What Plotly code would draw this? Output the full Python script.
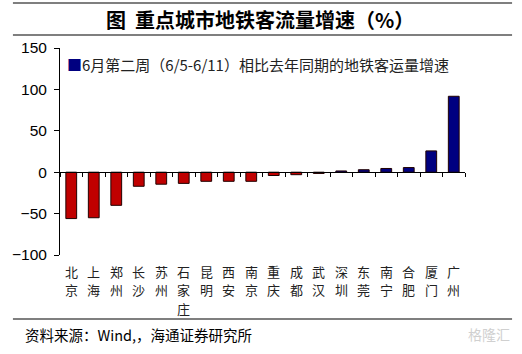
import plotly.graph_objects as go

cities = ["北京", "上海", "郑州", "长沙", "苏州", "石家庄", "昆明", "西安", "南京",
          "重庆", "成都", "武汉", "深圳", "东莞", "南宁", "合肥", "厦门", "广州"]
growth = [-56, -55, -40, -17, -14.5, -13.5, -11, -11, -11, -4, -3, -1.5, 1.5, 3, 4.5, 5.6, 25.7, 91.7]
series_name = "6月第二周（6/5-6/11）相比去年同期的地铁客运量增速"
yticks = [-100, -50, 0, 50, 100, 150]

RED = "#C00000"
BLUE = "#000080"
colors = [RED if v < 0 else BLUE for v in growth]

cjk = "Noto Sans CJK SC"
num = "Liberation Sans"

fig = go.Figure()
fig.add_trace(go.Bar(x=cities, y=growth, marker=dict(color=colors, line=dict(color="#200000", width=1)),
                     name=series_name, showlegend=False, xaxis="x", yaxis="y"))
fig.add_trace(go.Bar(x=cities, y=growth, opacity=0, showlegend=False, hoverinfo="skip",
                     xaxis="x2", yaxis="y"))

fig.update_layout(
    width=522, height=354,
    margin=dict(l=52, r=57, t=48, b=99),
    paper_bgcolor="white", plot_bgcolor="white",
    bargap=0.52,
    xaxis=dict(type="category", showline=False, ticks="", showgrid=False, showticklabels=False),
    xaxis2=dict(type="category", overlaying="x", matches="x", anchor="free", position=0.4, side="bottom",
                showline=True, linecolor="black", linewidth=1, ticks="outside", tickson="boundaries",
                ticklen=4, tickcolor="black", showticklabels=False, showgrid=False),
    yaxis=dict(range=[-100, 150], tickvals=yticks, showline=True, linecolor="black", linewidth=1,
               ticks="outside", ticklen=5, tickcolor="black", showgrid=False, zeroline=False,
               ticklabelstandoff=4, tickfont=dict(family=num, size=15.5, color="black")),
)

# vertical (stacked) category labels, one character per row
for name in cities:
    for i, ch in enumerate(name):
        fig.add_annotation(x=name, xref="x", yref="paper", y=0, yanchor="middle",
                           yshift=-(271 - 255) - i * 18.5, text=ch, showarrow=False,
                           font=dict(family=cjk, size=13, color="#222"))

fig.add_annotation(xref="paper", yref="paper", x=0.012, y=0.92, xanchor="left", yanchor="middle",
                   text=f"<span style='color:{BLUE}'>■</span>{series_name}", showarrow=False,
                   font=dict(family=cjk, size=15, color="#222"))

# title and frame lines
fig.add_annotation(xref="paper", yref="paper", x=(256 - 52) / 413, y=1, yshift=29, xanchor="center", yanchor="middle",
                   text="<b>图  重点城市地铁客流量增速（%）</b>", showarrow=False,
                   font=dict(family=cjk, size=20, color="black"))
for ypx in [3, 35, 319]:
    yp = (354 - 99 - ypx) / (354 - 48 - 99)
    fig.add_shape(type="line", xref="paper", yref="paper", x0=(4 - 52) / 413, x1=(513 - 52) / 413,
                  y0=yp, y1=yp, line=dict(color="black", width=1.2))
fig.add_annotation(xref="paper", yref="paper", x=(14 - 52) / 413, y=(354 - 99 - 334) / 207,
                   xanchor="left", yanchor="middle", text="资料来源：Wind,，海通证券研究所", showarrow=False,
                   font=dict(family=cjk, size=14.5, color="black"))
fig.add_annotation(xref="paper", yref="paper", x=(513 - 52) / 413, y=(354 - 99 - 334) / 207,
                   xanchor="right", yanchor="middle", text="格隆汇", showarrow=False,
                   font=dict(family=cjk, size=14, color="#d0d0d0"))

fig.write_html("out.html")
